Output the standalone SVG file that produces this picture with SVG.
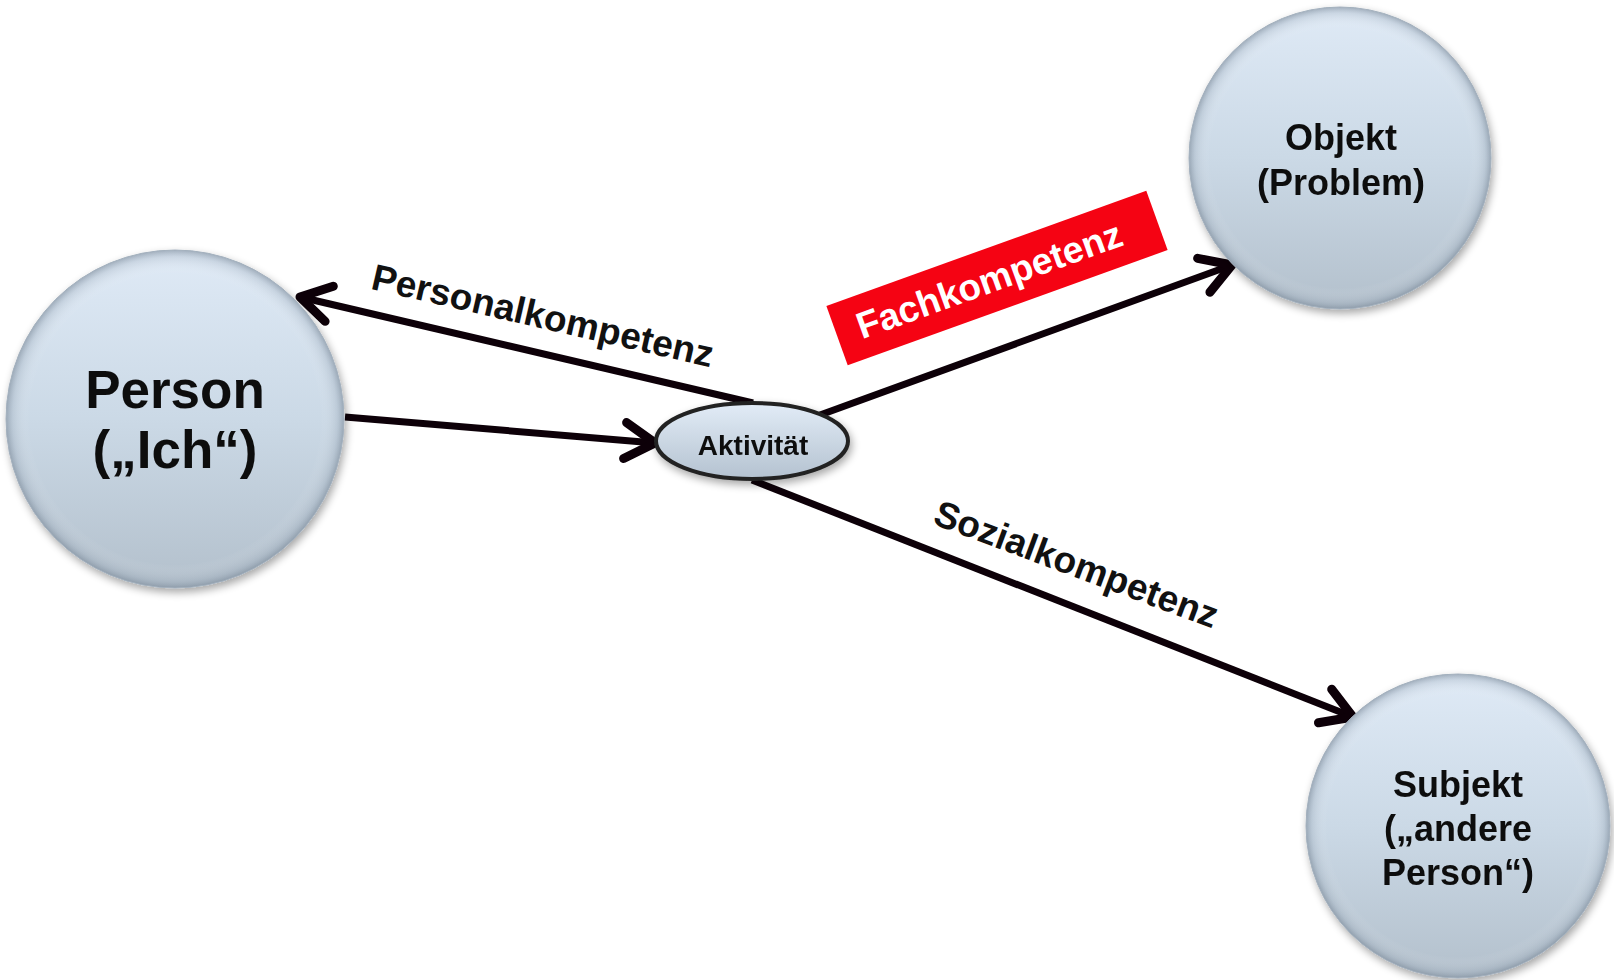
<svg xmlns="http://www.w3.org/2000/svg" width="1614" height="980" viewBox="0 0 1614 980">
  <defs>
    <linearGradient id="ballFill" x1="0" y1="0" x2="0" y2="1">
      <stop offset="0" stop-color="#dfeaf6"/>
      <stop offset="0.5" stop-color="#cbd9e6"/>
      <stop offset="1" stop-color="#b3c0cc"/>
    </linearGradient>
    <radialGradient id="rim" cx="0.5" cy="0.5" r="0.5">
      <stop offset="0.86" stop-color="#ffffff" stop-opacity="0"/>
      <stop offset="0.96" stop-color="#8e9cab" stop-opacity="0.25"/>
      <stop offset="1" stop-color="#6f7e8e" stop-opacity="0.55"/>
    </radialGradient>
    <linearGradient id="ovalFill" x1="0" y1="0" x2="0" y2="1">
      <stop offset="0" stop-color="#e2ecf7"/>
      <stop offset="1" stop-color="#b4c2d0"/>
    </linearGradient>
    <filter id="shadow" x="-20%" y="-20%" width="140%" height="140%">
      <feGaussianBlur in="SourceAlpha" stdDeviation="4"/>
      <feOffset dx="2" dy="4" result="b"/>
      <feComponentTransfer><feFuncA type="linear" slope="0.35"/></feComponentTransfer>
      <feMerge><feMergeNode/><feMergeNode in="SourceGraphic"/></feMerge>
    </filter>
    <marker id="arrow" markerUnits="userSpaceOnUse" viewBox="-40 -25 50 50" refX="0" refY="0" markerWidth="50" markerHeight="50" orient="auto" overflow="visible">
      <path d="M -30 -18 L 0 0 L -30 18" fill="none" stroke="#0d0008" stroke-width="9" stroke-linecap="round" stroke-linejoin="round"/>
    </marker>
    <style>
      .ball { fill: url(#ballFill); }
      .rim { fill: url(#rim); stroke: #a3b0bd; stroke-width: 1; }
      .lbl { font-family: "Liberation Sans", Arial, sans-serif; font-weight: bold; fill: #111111; text-anchor: middle; }
      .conn { stroke: #0d0008; stroke-width: 7; fill: none; marker-end: url(#arrow); }
    </style>
  </defs>
  <rect width="1614" height="980" fill="#ffffff"/>

  <g id="connectors">
    <line class="conn" x1="753" y1="403" x2="300" y2="297"/>
    <line class="conn" x1="345" y1="417" x2="655" y2="443"/>
    <line class="conn" x1="820" y1="415" x2="1232" y2="265"/>
    <line class="conn" x1="752" y1="480" x2="1353" y2="717"/>
  </g>

  <g id="person" filter="url(#shadow)">
    <circle class="ball" cx="175" cy="419" r="169"/>
    <circle class="rim" cx="175" cy="419" r="169"/>
    <text class="lbl" font-size="53" x="175" y="408">Person</text>
    <text class="lbl" font-size="53" x="175" y="468">(„Ich“)</text>
  </g>

  <g id="objekt" filter="url(#shadow)">
    <circle class="ball" cx="1340" cy="158" r="151"/>
    <circle class="rim" cx="1340" cy="158" r="151"/>
    <text class="lbl" font-size="36" x="1341" y="150">Objekt</text>
    <text class="lbl" font-size="36" x="1341" y="195">(Problem)</text>
  </g>

  <g id="subjekt" filter="url(#shadow)">
    <circle class="ball" cx="1458" cy="826" r="152"/>
    <circle class="rim" cx="1458" cy="826" r="152"/>
    <text class="lbl" font-size="36" x="1458" y="797">Subjekt</text>
    <text class="lbl" font-size="36" x="1458" y="841">(„andere</text>
    <text class="lbl" font-size="36" x="1458" y="885">Person“)</text>
  </g>

  <g id="aktivitaet" filter="url(#shadow)">
    <ellipse cx="752" cy="441" rx="96" ry="38" fill="url(#ovalFill)" stroke="#222222" stroke-width="4"/>
    <text class="lbl" font-size="28" x="753" y="455">Aktivität</text>
  </g>

  <g id="label-personalkompetenz">
    <text class="lbl" font-size="37" transform="translate(540,328) rotate(13)">Personalkompetenz</text>
  </g>

  <g id="label-sozialkompetenz">
    <text class="lbl" font-size="37" transform="translate(1072,576) rotate(20.5)">Sozialkompetenz</text>
  </g>

  <g id="label-fachkompetenz" transform="translate(997,278) rotate(-19.8)">
    <rect x="-170" y="-31.5" width="340" height="63" fill="#f50313"/>
    <text class="lbl" font-size="37" x="-8" y="12" style="fill:#ffffff">Fachkompetenz</text>
  </g>
</svg>
